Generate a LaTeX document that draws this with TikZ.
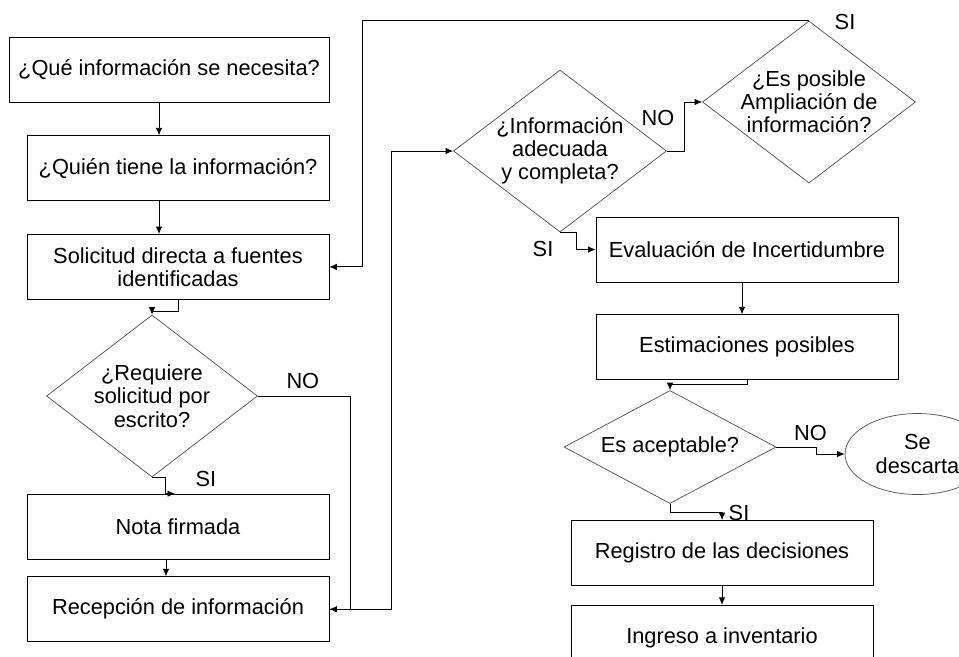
\documentclass[tikz,border=0pt]{standalone}
\usepackage{fontspec}
\setmainfont{Liberation Sans}
\usepackage{tikz}
\usetikzlibrary{arrows.meta,shapes,shapes.geometric,positioning}
\usetikzlibrary{calc}

\begin{document}
\begin{tikzpicture}[node distance=0.66cm, auto]
                \tikzstyle{block} = [rectangle, draw, fill=white,
                minimum width=6.04cm, minimum height=1.3cm,
                inner xsep=2pt, align=center, font=\fontsize{12.4}{13.2}\selectfont]
                \tikzstyle{decision} = [diamond, draw=black!70, inner sep=-4pt,
                align=center, font=\fontsize{12.4}{13.2}\selectfont]
                \tikzstyle{terminal} = [ellipse, draw=black!70, inner sep=0pt,
                minimum width=2.9cm, minimum height=1.62cm,
                align=center, font=\fontsize{12.4}{13.2}\selectfont]
                \tikzstyle{answer} = [font=\fontsize{12.4}{13.2}\selectfont]
                \tikzstyle{arrow} = [line width=0.5pt, -{Latex[length=1.5mm,width=1.3mm]}]

                \fill [white] (0,0) rectangle (19.18,-13.12);
                \useasboundingbox (0,0) rectangle (19.18,-13.12);

                % left column
                \node [block, minimum width=6.4cm] (que) at (3.38,-1.39) {¿Qué información se necesita?};
                \node [block, below=0.66cm of que.south east, anchor=north east] (quien) {¿Quién tiene la información?};
                \node [block, below=of quien] (sol) {Solicitud directa a fuentes\\identificadas};
                \node [decision, minimum width=4.22cm, minimum height=3.24cm, shape aspect=1.3] (req) at (3.04,-7.92) {¿Requiere\\solicitud por\\escrito?};
                \node [block] (nota) at (3.56,-10.53) {Nota firmada};
                \node [block, below=0.34cm of nota] (recep) {Recepción de información};

                % right part
                \node [decision, minimum width=4.26cm, minimum height=3.24cm, shape aspect=1.31] (info) at (11.2,-3.02) {¿Información\\adecuada\\y completa?};
                \node [decision, minimum width=4.26cm, minimum height=3.24cm, shape aspect=1.31] (amp) at (16.18,-2.04) {¿Es posible\\Ampliación de\\información?};
                \node [block] (eval) at (14.94,-4.99) {Evaluación de Incertidumbre};
                \node [block, below=0.64cm of eval] (est) {Estimaciones posibles};
                \node [decision, minimum width=4.24cm, minimum height=2.26cm, shape aspect=1.88] (acep) at (13.4,-8.94) {Es aceptable?};
                \node [terminal] (desc) at (18.35,-9.08) {Se\\descarta};
                \node [block] (reg) at (14.44,-11.06) {Registro de las decisiones};
                \node [block, below=0.38cm of reg] (ingr) {Ingreso a inventario};

                \draw [arrow] ([xshift=-0.2cm]que.south) -- ([xshift=-0.2cm]que.south |- quien.north);
                \draw [arrow] ([xshift=-0.38cm]quien.south) -- ([xshift=-0.38cm]quien.south |- sol.north);
                \draw [arrow] (sol.south) -- ++(0,-0.24) -| (req.north);
                \draw [arrow] (req.south) node [answer, xshift=1.08cm, yshift=-0.04cm] {SI}
                    -| ([xshift=-0.26cm]nota.north) -- ++(0.2,0);
                \draw [arrow] ([xshift=-0.24cm]nota.south) -- ([xshift=-0.24cm]recep.north);
                \draw [arrow] (req.east) node [answer, xshift=0.9cm, yshift=0.3cm] {NO}
                    -- ++(1.86,0) |- (recep.east);
                \draw [arrow] (recep.east) -- ++(1.24,0) |- (info.west);
                \draw [arrow] (info.east) node [answer, xshift=-0.18cm, yshift=0.66cm] {NO}
                    -- ++(0.36,0) |- (amp.west);
                \draw [arrow] (amp.north) node [answer, xshift=0.72cm, yshift=-0.02cm] {SI}
                    -- ++(-8.94,0) |- (sol.east);
                \draw [arrow] (info.south) node [answer, xshift=-0.34cm, yshift=-0.34cm] {SI}
                    -| ([xshift=-0.38cm]eval.west) -- (eval.west);
                \draw [arrow] ([xshift=-0.1cm]eval.south) -- ([xshift=-0.1cm]est.north);
                \draw [arrow] (est.south) -- ++(0,-0.08) -| (acep.north);
                \draw [arrow] (acep.east) node [answer, xshift=0.68cm, yshift=0.28cm] {NO}
                    -- ++(0.8,0) |- (desc.west);
                \draw [arrow] (acep.south) node [answer, xshift=1.38cm, yshift=-0.18cm] {SI}
                    -- ++(0,-0.18) -| (reg.north);
                \draw [arrow] (reg) -- (ingr);
            \end{tikzpicture}
\end{document}
